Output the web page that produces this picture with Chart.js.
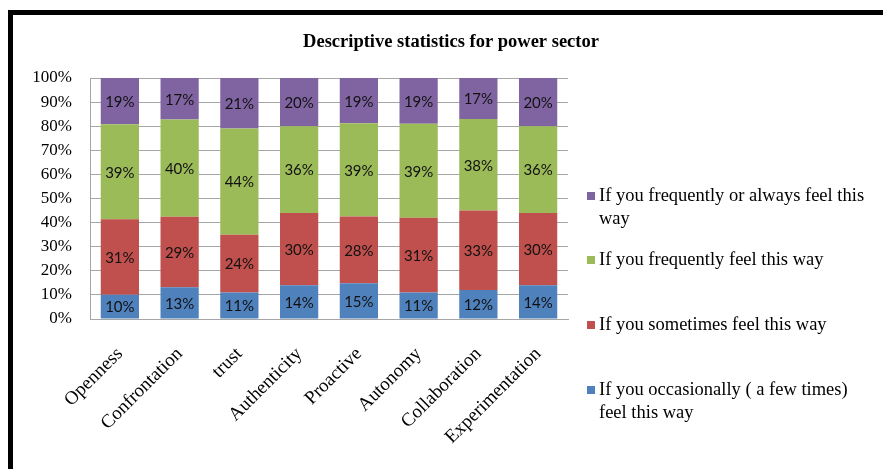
<!DOCTYPE html>
<html><head><meta charset="utf-8">
<script src="https://cdn.jsdelivr.net/npm/chart.js@4"></script>
<style>
html,body{margin:0;padding:0;background:#fff;}
#wrap{position:relative;width:883px;height:469px;overflow:hidden;background:#fff;}
#frame{position:absolute;left:8px;top:10px;width:900px;height:500px;border-top:5px solid #000;border-left:5px solid #000;pointer-events:none;box-sizing:content-box;}
canvas{position:absolute;left:0;top:0;}
</style></head><body>
<div id="wrap"><canvas id="c" width="883" height="469"></canvas><div id="frame"></div></div>
<script>
const titleText = 'Descriptive statistics for power sector';
const categories = ['Openness','Confrontation','trust','Authenticity','Proactive','Autonomy','Collaboration','Experimentation'];
const occasionally = [10,13,11,14,15,11,12,14];
const sometimes    = [31,29,24,30,28,31,33,30];
const frequently   = [39,40,44,36,39,39,38,36];
const always       = [19,17,21,20,19,19,17,20];
const seriesLabels = [
  'If you occasionally ( a few times) feel this way',
  'If you sometimes feel this way',
  'If you frequently feel this way',
  'If you frequently or always feel this way'
];
const yTicks = [0,10,20,30,40,50,60,70,80,90,100];

const seriesColors = ['#4F81BD','#C0504D','#9BBB59','#8064A2'];
const rawSeries = [occasionally, sometimes, frequently, always];
const totals = categories.map((_, j) => rawSeries.reduce((s, arr) => s + arr[j], 0));

const datasets = rawSeries.map((arr, i) => ({
  label: seriesLabels[i],
  raw: arr,
  data: arr.map((v, j) => v / totals[j] * 100),
  backgroundColor: seriesColors[i],
  borderWidth: 0,
  categoryPercentage: 1,
  barPercentage: 0.64
}));

const SERIF = "'Liberation Serif', 'Times New Roman', serif";

function wrapText(ctx, text, maxW) {
  const words = text.split(' ');
  const lines = [];
  let cur = '';
  words.forEach(w => {
    const test = cur ? cur + ' ' + w : w;
    if (ctx.measureText(test).width > maxW && cur) { lines.push(cur); cur = w; }
    else cur = test;
  });
  if (cur) lines.push(cur);
  return lines;
}

const overlay = {
  id: 'overlay',
  afterDatasetsDraw(chart) {
    const ctx = chart.ctx;
    ctx.save();
    ctx.font = "15px Lato, 'Open Sans', sans-serif";
    ctx.fillStyle = '#111';
    ctx.textAlign = 'center';
    ctx.textBaseline = 'middle';
    chart.data.datasets.forEach((ds, i) => {
      const meta = chart.getDatasetMeta(i);
      meta.data.forEach((bar, j) => {
        const p = bar.getProps(['x', 'y', 'base'], true);
        ctx.fillText(ds.raw[j] + '%', p.x, (p.y + p.base) / 2 + 1);
      });
    });
    ctx.restore();
  },
  afterDraw(chart) {
    const ctx = chart.ctx;
    ctx.save();
    // title
    ctx.font = 'bold 18.5px ' + SERIF;
    ctx.fillStyle = '#000';
    ctx.textAlign = 'center';
    ctx.textBaseline = 'middle';
    ctx.fillText(titleText, 451, 42);
    // legend (reverse order)
    ctx.font = '18.5px ' + SERIF;
    ctx.textAlign = 'left';
    const firstLineY = [196, 260, 325, 390];
    const lineH = 23;
    const ds = chart.data.datasets.slice().reverse();
    ds.forEach((d, k) => {
      const y0 = firstLineY[k];
      ctx.fillStyle = d.backgroundColor;
      ctx.fillRect(587, y0 - 4, 8, 8);
      ctx.fillStyle = '#000';
      const lines = wrapText(ctx, d.label, 276);
      lines.forEach((ln, m) => ctx.fillText(ln, 599, y0 + m * lineH));
    });
    ctx.restore();
  }
};

new Chart(document.getElementById('c'), {
  type: 'bar',
  data: { labels: categories, datasets },
  options: {
    responsive: false,
    animation: false,
    layout: { padding: { left: 20, top: 78, right: 315, bottom: 0 } },
    plugins: { legend: { display: false }, title: { display: false }, tooltip: { enabled: false } },
    scales: {
      x: {
        stacked: true,
        grid: { display: false, drawTicks: false },
        border: { display: true, color: '#a6a6a6', width: 1 },
        ticks: {
          font: { family: SERIF, size: 19 },
          color: '#000',
          maxRotation: 45, minRotation: 45,
          padding: 24
        },
        afterFit(scale) { scale.height = 150; }
      },
      y: {
        stacked: true,
        min: 0, max: 100,
        grid: { color: '#a6a6a6', drawTicks: false },
        border: { display: true, color: '#a6a6a6', width: 1 },
        afterBuildTicks(scale) { scale.ticks = yTicks.map(v => ({ value: v })); },
        ticks: {
          font: { family: SERIF, size: 17 },
          color: '#000',
          padding: 18,
          callback: v => v + '%'
        },
        afterFit(scale) { scale.width = 70; }
      }
    }
  },
  plugins: [overlay]
});
</script>
</body></html>
